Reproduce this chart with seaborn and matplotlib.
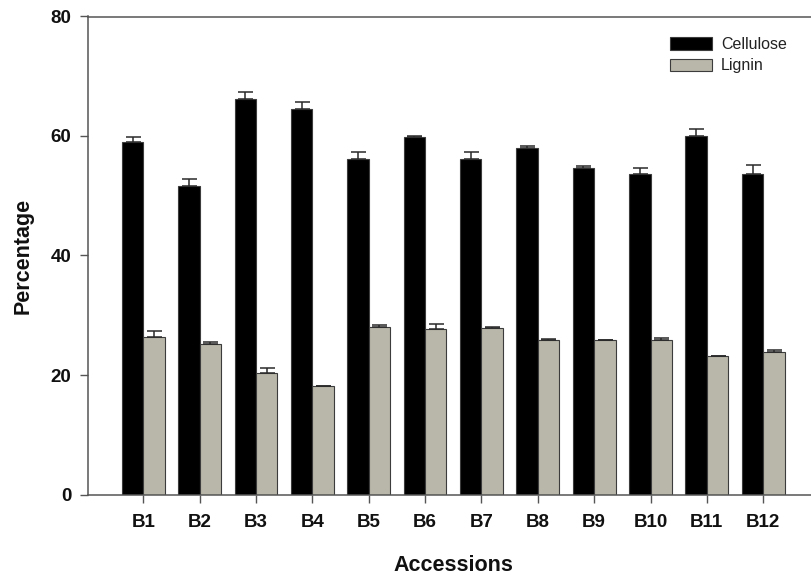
import matplotlib
matplotlib.use("Agg")
import matplotlib.pyplot as plt
import seaborn as sns
import pandas as pd
import numpy as np

# Composition of each accession (percentage of dry matter) with standard errors
accessions = ["B1", "B2", "B3", "B4", "B5", "B6", "B7", "B8", "B9", "B10", "B11", "B12"]
cellulose = [59.0, 51.7, 66.2, 64.6, 56.2, 59.8, 56.2, 58.0, 54.7, 53.7, 60.0, 53.7]
cellulose_err = [0.85, 1.1, 1.1, 1.05, 1.1, 0.2, 1.1, 0.35, 0.2, 0.95, 1.1, 1.45]
lignin = [26.4, 25.2, 20.3, 18.1, 28.0, 27.7, 27.9, 25.9, 25.8, 25.9, 23.1, 23.9]
lignin_err = [0.95, 0.3, 0.8, 0.1, 0.35, 0.85, 0.2, 0.1, 0.1, 0.25, 0.1, 0.3]
components = ["Cellulose", "Lignin"]
colors = {"Cellulose": "#000000", "Lignin": "#b8b7aa"}

df = pd.DataFrame({
    "Accessions": accessions * 2,
    "Component": ["Cellulose"] * len(accessions) + ["Lignin"] * len(accessions),
    "Percentage": cellulose + lignin,
})
errors = {"Cellulose": cellulose_err, "Lignin": lignin_err}

sns.set_style("ticks")
plt.rcParams["font.family"] = ["Liberation Sans", "DejaVu Sans"]

W, H = 811, 577
fig = plt.figure(figsize=(W / 100, H / 100), dpi=100)
left_px, right_px, top_px, bottom_px = 88, 819.6, 16.5, 494.5
ax = fig.add_axes([left_px / W, 1 - bottom_px / H,
                   (right_px - left_px) / W, (bottom_px - top_px) / H])

sns.barplot(data=df, x="Accessions", y="Percentage", hue="Component",
            hue_order=components, palette=colors, width=0.76,
            edgecolor="#3c3c3c", linewidth=0.8, errorbar=None, ax=ax,
            saturation=1)

# upward-only error bars on top of every bar
for comp, container in zip(components, ax.containers):
    xs = [p.get_x() + p.get_width() / 2 for p in container.patches]
    hs = [p.get_height() for p in container.patches]
    err = errors[comp]
    ax.errorbar(xs, hs, yerr=[np.zeros(len(err)), err], fmt="none",
                ecolor="#2a2a2a", elinewidth=1.1, capsize=5.4,
                capthick=1.1, zorder=3)

ax.set_ylim(0, 80)
ax.set_xlim(-0.98, 12.0)
ax.set_yticks([0, 20, 40, 60, 80])

spine_color = "#555555"
for side in ["left", "bottom", "top"]:
    ax.spines[side].set_visible(True)
    ax.spines[side].set_color(spine_color)
    ax.spines[side].set_linewidth(1.1)
ax.spines["right"].set_visible(False)

ax.tick_params(axis="both", direction="out", length=6, width=1.0,
               color=spine_color, labelsize=13.5, labelcolor="#111111")
ax.tick_params(axis="x", pad=8)
ax.tick_params(axis="y", pad=6)
for lab in ax.get_xticklabels() + ax.get_yticklabels():
    lab.set_fontweight("bold")

ax.set_xlabel("Accessions", fontsize=15.5, fontweight="bold", labelpad=17,
              color="#111111")
ax.set_ylabel("Percentage", fontsize=15.5, fontweight="bold", labelpad=12,
              color="#111111")

leg = ax.legend(title=None, frameon=False, loc="upper left",
                bbox_to_anchor=(670 / W, 1 - 37 / H), bbox_transform=fig.transFigure,
                fontsize=11.5, handlelength=2.6, handleheight=0.8,
                handletextpad=0.6, labelspacing=0.4, borderpad=0, borderaxespad=0)
for t in leg.get_texts():
    t.set_color("#222222")

fig.savefig("out.png", dpi=100)
